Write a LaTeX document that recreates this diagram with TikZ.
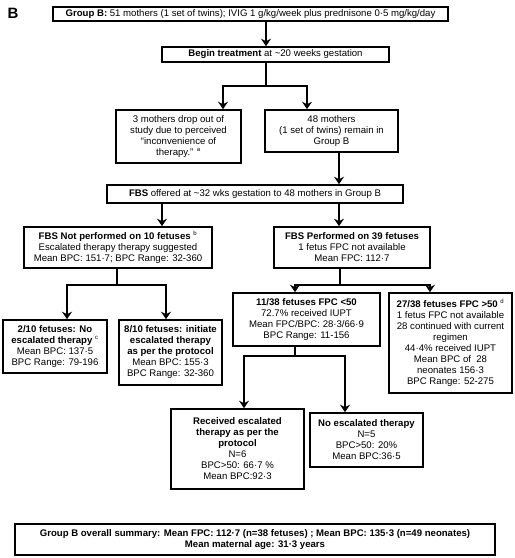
\documentclass[tikz,border=0pt]{standalone}
\usepackage{fontspec}
\setmainfont{Liberation Sans}
\usetikzlibrary{arrows.meta,shadows}
\tikzset{
  box/.style={draw=black, line width=1.6pt, fill=white, align=center, inner sep=1pt,
    font=\fontsize{9.6}{11}\selectfont,
    drop shadow={shadow xshift=1.2pt, shadow yshift=-1.2pt, fill=black!35, opacity=1}},
  ln/.style={line width=1.8pt, line join=miter},
  arr/.style={ln, -{Stealth[length=7.5pt, width=10pt, inset=2.5pt]}},
}
\newcommand{\sps}[1]{\textsuperscript{\fontsize{6}{6}\selectfont #1}}
\begin{document}
\begin{tikzpicture}[x=1pt, y=-1pt]
\useasboundingbox (0,0) rectangle (515,558);

\node[font=\fontsize{15}{15}\selectfont\bfseries] (lab) at (13,13) {B};

\node[box, minimum width=395pt, minimum height=14pt] (top) at (250.5,14)
  {\textbf{Group B:} 51 mothers (1 set of twins); IVIG 1 g/kg/week plus prednisone 0·5 mg/kg/day};
\node[box, minimum width=227pt, minimum height=15pt] (begin) at (275.5,54.5)
  {\textbf{Begin treatment} at \textasciitilde 20 weeks gestation};
\node[box, minimum width=125pt, minimum height=53pt] (drop) at (178.5,136.5)
  {3 mothers drop out of\\study due to perceived\\“inconvenience of\\therapy.” \sps{a}};
\node[box, minimum width=133pt, minimum height=42pt] (remain) at (331.5,131)
  {48 mothers\\(1 set of twins) remain in\\Group B};
\node[box, minimum width=296pt, minimum height=18pt] (fbs) at (255,194)
  {\textbf{FBS} offered at \textasciitilde 32 wks gestation to 48 mothers in Group B};
\node[box, minimum width=188pt, minimum height=41pt] (notperf) at (118,247.5)
  {\textbf{FBS Not performed on 10 fetuses} \sps{b}\\Escalated therapy therapy suggested\\Mean BPC: 151·7; BPC Range: 32-360};
\node[box, minimum width=156pt, minimum height=41pt] (perf) at (352,247.5)
  {\textbf{FBS Performed on 39 fetuses}\\1 fetus FPC not available\\Mean FPC: 112·7};
\node[box, minimum width=104pt, minimum height=53pt] (two) at (55,346.5)
  {\textbf{2/10 fetuses: No}\\\textbf{escalated therapy} \sps{c}\\Mean BPC: 137·5\\BPC Range: 79-196};
\node[box, minimum width=103pt, minimum height=65pt] (eight) at (170.5,352.5)
  {\textbf{8/10 fetuses: initiate}\\\textbf{escalated therapy}\\\textbf{as per the protocol}\\Mean BPC: 155·3\\BPC Range: 32-360};
\node[box, minimum width=147pt, minimum height=53pt] (eleven) at (306.5,319.5)
  {\textbf{11/38 fetuses FPC <50}\\72.7\% received IUPT\\Mean FPC/BPC: 28·3/66·9\\BPC Range: 11-156};
\node[box, minimum width=123pt, minimum height=100pt] (tseven) at (450.5,343)
  {\textbf{27/38 fetuses FPC >50} \sps{d}\\1 fetus FPC not available\\28 continued with current\\regimen\\44·4\% received IUPT\\Mean BPC of \ 28\\neonates 156·3\\BPC Range: 52-275};
\node[box, minimum width=133pt, minimum height=80pt] (recv) at (237.5,449)
  {\textbf{Received escalated}\\\textbf{therapy as per the}\\\textbf{protocol}\\N=6\\BPC>50: 66·7 \%\\Mean BPC:92·3};
\node[box, minimum width=113pt, minimum height=54pt] (noesc) at (366.5,440)
  {\textbf{No escalated therapy}\\N=5\\BPC>50: 20\%\\Mean BPC:36·5};
\node[box, minimum width=480pt, minimum height=31pt] (sum) at (255,539.5)
  {\textbf{Group B overall summary: Mean FPC: 112·7 (n=38 fetuses) ; Mean BPC: 135·3 (n=49 neonates)}\\\textbf{Mean maternal age: 31·3 years}};

\coordinate (s1) at (266,86);
\coordinate (xa) at (223,0);
\coordinate (xb) at (307,0);
\coordinate (xc) at (339,0);
\coordinate (xd) at (162,0);
\coordinate (s2) at (117,285);
\coordinate (xe) at (67,0);
\coordinate (xf) at (166,0);
\coordinate (s3) at (340,285);
\coordinate (xg) at (295,0);
\coordinate (xh) at (430,0);
\coordinate (s4) at (295,356);
\coordinate (xi) at (244,0);
\coordinate (xj) at (345,0);

\draw[arr] (top.south -| s1) -- (begin.north -| s1);
\draw[arr] (begin.south -| s1) -- (s1) -| (drop.north -| xa);
\draw[arr] (s1) -| (remain.north -| xb);
\draw[arr] (remain.south -| xc) -- (fbs.north -| xc);
\draw[arr] (fbs.south -| xd) -- (notperf.north -| xd);
\draw[arr] (fbs.south -| xc) -- (perf.north -| xc);
\draw[arr] (notperf.south -| s2) -- (s2) -| (two.north -| xe);
\draw[arr] (s2) -| (eight.north -| xf);
\draw[arr] (perf.south -| s3) -- (s3) -| (eleven.north -| xg);
\draw[arr] (s3) -| (tseven.north -| xh);
\draw[arr] (eleven.south -| s4) -- (s4) -| (recv.north -| xi);
\draw[arr] (s4) -| (noesc.north -| xj);
\end{tikzpicture}
\end{document}
